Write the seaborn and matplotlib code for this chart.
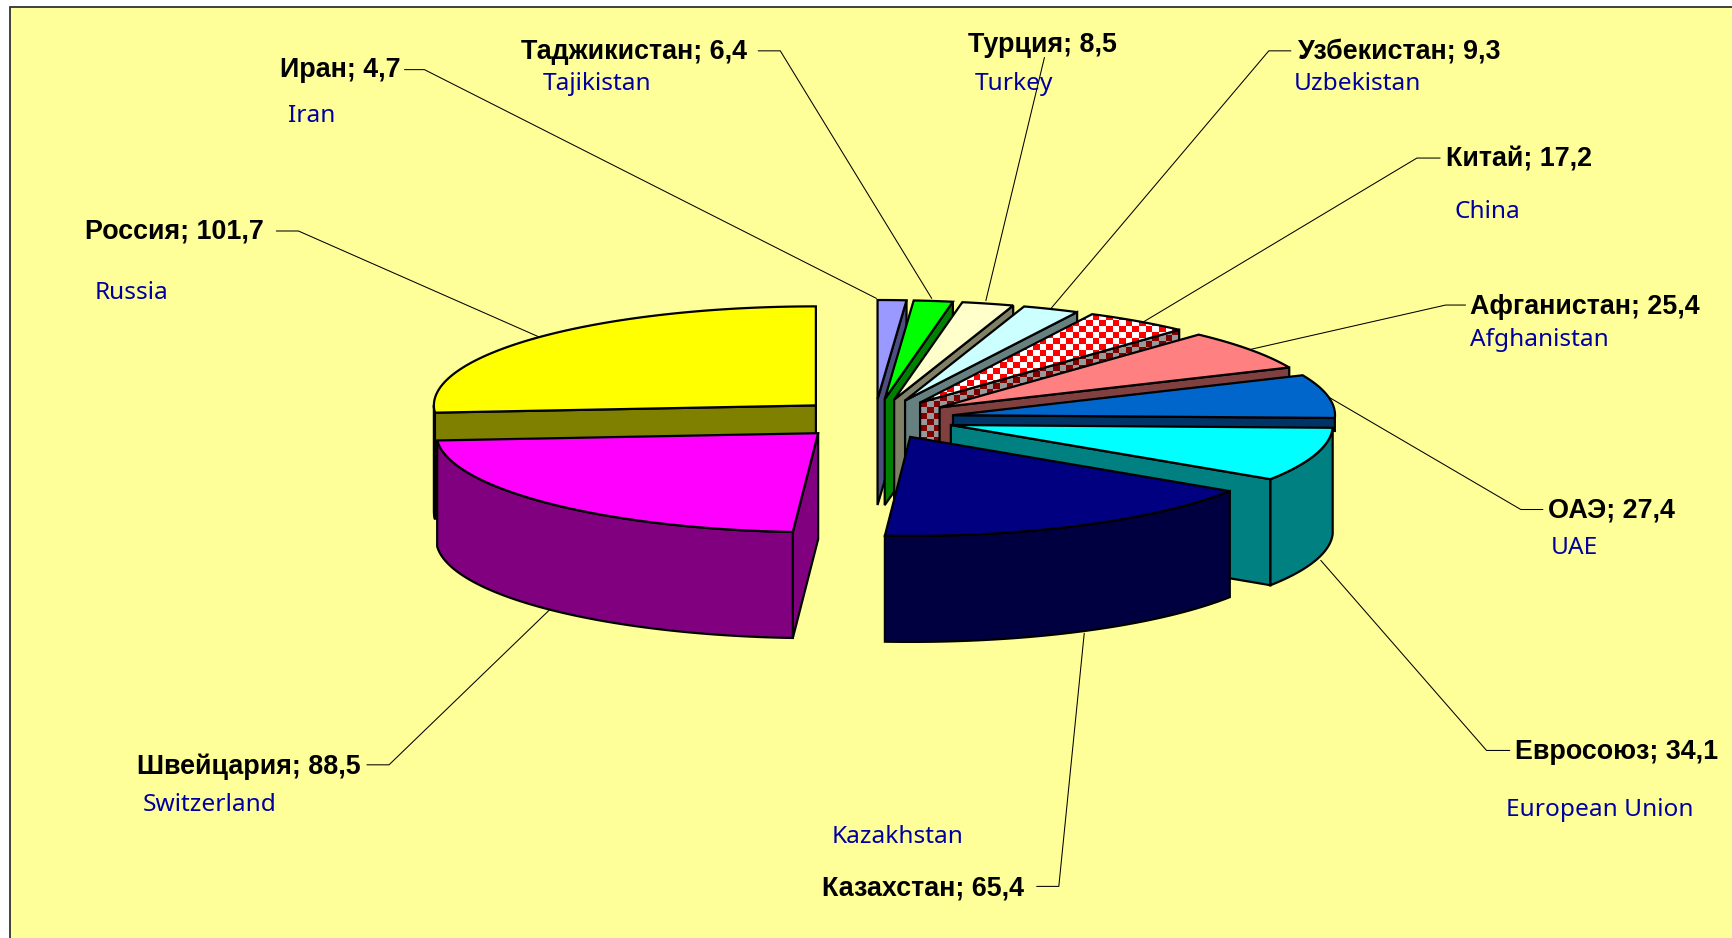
import numpy as np
import matplotlib
matplotlib.use("Agg")
import matplotlib.pyplot as plt
from matplotlib.patches import Polygon, Rectangle
from matplotlib.colors import ListedColormap, to_rgb
import seaborn as sns

names_ru = ["Иран", "Таджикистан", "Турция", "Узбекистан", "Китай", "Афганистан",
            "ОАЭ", "Евросоюз", "Казахстан", "Швейцария", "Россия"]
names_en = ["Iran", "Tajikistan", "Turkey", "Uzbekistan", "China", "Afghanistan",
            "UAE", "European Union", "Kazakhstan", "Switzerland", "Russia"]
values = [4.7, 6.4, 8.5, 9.3, 17.2, 25.4, 27.4, 34.1, 65.4, 88.5, 101.7]
top_colors = ["#9999FF", "#00FF00", "#FFFFCC", "#CCFFFF", "#FF0000", "#FF8080",
              "#0066CC", "#00FFFF", "#000080", "#FF00FF", "#FFFF00"]

sns.set_theme(style="white")
plt.rcParams["font.family"] = ["Noto Sans", "DejaVu Sans"]
palette = sns.color_palette(top_colors)

S = 1733 / 1568
W, H = 1733, 938
CX, CY = 874.5, 419
RX, RY = 382, 99
EX, EY = 80, 20
DEPTH = 106
LW = 1.6

fig = plt.figure(figsize=(W / 100, H / 100), dpi=100, facecolor="white")
ax = fig.add_axes([0, 0, 1, 1])
ax.set_xlim(0, W)
ax.set_ylim(H, 0)
ax.axis("off")
ax.add_patch(Rectangle((10, 7), W + 40, H + 40, fc="#FFFF99", ec="#333333", lw=1.3, zorder=0))

label_pos = [(253, 61), (471, 44), (876, 38), (1174, 44), (1308, 142), (1330, 275),
             (1401, 459), (1371, 678), (744, 801), (124, 691), (77, 207)]
en_pos = [(261, 102), (491, 73), (882, 73), (1171, 73), (1316, 189), (1330, 305),
          (1403, 493), (1363, 730), (752, 755), (129, 726), (86, 262)]
leaders = [[(366, 63), (384, 63), (793, 270)],
           [(686, 46), (706, 46), (843, 270)],
           [(945, 52), (892, 272)],
           [(1168, 46), (1148, 46), (951, 279)],
           [(1303, 143), (1282, 143), (1035, 291)],
           [(1326, 276), (1308, 276), (1132, 316)],
           [(1396, 461), (1376, 461), (1200, 358)],
           [(1366, 679), (1345, 679), (1195, 507)],
           [(938, 802), (958, 802), (981, 573)],
           [(332, 692), (352, 692), (497, 552)],
           [(250, 209), (270, 209), (488, 305)]]
for pts in leaders:
    p = np.array(pts) * S
    ax.plot(p[:, 0], p[:, 1], color="black", lw=0.75, zorder=1)


def rim(theta, ax0, ay0):
    t = np.radians(theta)
    return np.column_stack([ax0 + RX * np.sin(t), ay0 - RY * np.cos(t)])


def darker(c):
    return tuple(v / 2 for v in to_rgb(c))


def checker(poly, c1, c2, z):
    x0, y0 = poly.min(axis=0).astype(int) - 6
    x1, y1 = poly.max(axis=0).astype(int) + 6
    cw, ch = 6.6, 6
    nx, ny = int((x1 - x0) / cw) + 1, int((y1 - y0) / ch) + 1
    grid = (np.add.outer(np.arange(ny), np.arange(nx)) % 2)
    im = ax.imshow(grid, cmap=ListedColormap([c1, c2]), interpolation="nearest", aspect="auto",
                   extent=(x0, x0 + nx * cw, y0 + ny * ch, y0), zorder=z)
    patch = Polygon(poly, closed=True, transform=ax.transData, fc="none", ec="none")
    ax.add_patch(patch)
    im.set_clip_path(patch)
    ax.add_patch(Polygon(poly, closed=True, fc="none", ec="black", lw=LW, zorder=z + 0.1))
    ax.set_xlim(0, W)
    ax.set_ylim(H, 0)


total = sum(values)
edges = np.concatenate([[0], np.cumsum(values)]) / total * 360
draw_order = [10, 0, 1, 2, 3, 4, 5, 6, 7, 9, 8]
z = 2
for i in draw_order:
    a0, a1 = edges[i], edges[i + 1]
    mid = np.radians((a0 + a1) / 2)
    ax0, ay0 = CX + EX * np.sin(mid), CY - EY * np.cos(mid)
    apex = np.array([ax0, ay0])
    arc = rim(np.linspace(a0, a1, 160), ax0, ay0)
    top = np.vstack([apex, arc])
    face = to_rgb(palette[i])
    wall = darker(face)
    is_checker = names_en[i] == "China"
    # a slice ending almost level shows only a short strip of its wall above the next slice
    level_end = abs(a1 - 90) < 5
    down = np.array([0, 13 if level_end else DEPTH])

    walls = []
    if a1 <= 180 or level_end:
        e = rim(np.array([a1]), ax0, ay0)[0]
        walls.append(np.array([apex, e, e + down, apex + down]))
    if a0 >= 180:
        e = rim(np.array([a0]), ax0, ay0)[0]
        walls.append(np.array([apex, e, e + down, apex + down]))
    lo, hi = max(a0, 90), min(a1, 270)
    if hi > lo and not level_end:
        front = rim(np.linspace(lo, hi, 160), ax0, ay0)
        walls.append(np.vstack([front, (front + down)[::-1]]))
    for w in walls:
        if is_checker:
            checker(w, "#800000", "#999999", z)
        else:
            ax.add_patch(Polygon(w, closed=True, fc=wall, ec="black", lw=LW, joinstyle="miter", zorder=z))
        z += 1
    if is_checker:
        checker(top, "#FF0000", "#FFFFFF", z)
    else:
        ax.add_patch(Polygon(top, closed=True, fc=face, ec="black", lw=LW, joinstyle="miter", zorder=z))
    z += 1

for ru, en, v, (lx, ly), (ex, ey) in zip(names_ru, names_en, values, label_pos, en_pos):
    ax.text(lx * S, ly * S, f"{ru}; {v:.1f}".replace(".", ","), ha="left", va="center_baseline",
            fontsize=19.4, fontweight="bold", color="black", family=["Liberation Sans", "DejaVu Sans"], zorder=100)
    ax.text(ex * S, ey * S, en, ha="left", va="center_baseline",
            fontsize=17.6, color="#0000A0", zorder=100)

fig.savefig("out.png", dpi=100, facecolor="white")
